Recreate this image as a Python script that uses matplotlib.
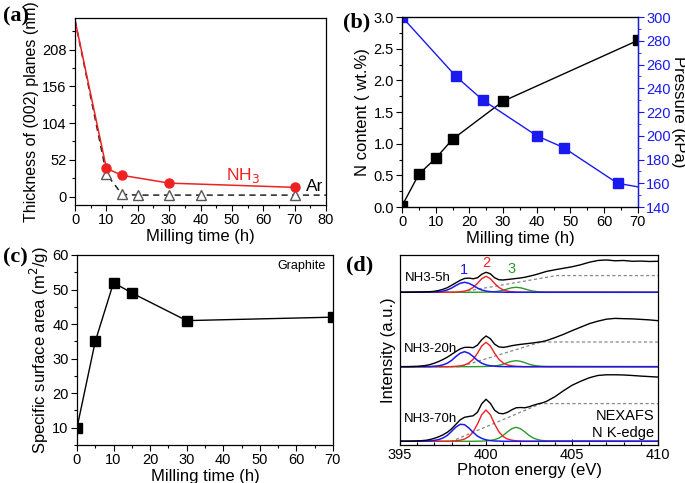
import numpy as np
import matplotlib.pyplot as plt
from matplotlib.ticker import MultipleLocator

plt.rcParams['font.family'] = ['Liberation Sans', 'DejaVu Sans']

# ---- (a) thickness of (002) planes
a_t_nh3 = [0, 10, 15, 30, 70]
a_nh3 = [250, 40, 30, 19, 13]
a_t_ar = [0, 10, 15, 20, 30, 40, 70, 80]
a_ar = [250, 32, 3, 2, 2, 2, 2, 2]

# ---- (b) N content and pressure
b_t_n = [0, 5, 10, 15, 30, 70]
b_n = [0.02, 0.52, 0.77, 1.07, 1.67, 2.63]
b_t_p = [0, 16, 24, 40, 48, 64, 70]
b_p = [300, 250, 230, 200, 190, 160, 157]

# ---- (c) specific surface area
c_t = [0, 5, 10, 15, 30, 70]
c_ssa = [10, 35, 52, 49, 41, 42]

# ---- (d) NEXAFS N K-edge
e_black = [395, 395.5, 396, 396.5, 396.75, 397, 397.25, 397.5, 397.75, 398, 398.25,
           398.5, 398.75, 399, 399.25, 399.5, 399.75, 400, 400.25, 400.5, 400.75, 401,
           401.25, 401.5, 401.75, 402, 402.25, 402.5, 402.75, 403, 403.25, 403.5, 404,
           404.5, 405, 405.5, 406, 406.5, 407, 407.5, 408, 408.5, 409, 409.5, 410]
spec_5h = [0, 0, 0.2, 0.4, 0.6, 1.0, 1.8, 3.0, 4.6, 7.0, 9.5, 12.0, 13.8, 14.2, 13.5,
           14.5, 18.0, 20.0, 18.5, 14.5, 12.5, 12.3, 12.8, 13.3, 13.8, 14.3, 15.0, 16.0,
           17.0, 18.2, 19.5, 20.8, 22.5, 24.0, 25.5, 27.5, 30.0, 31.8, 32.3, 31.5, 31.8,
           31.0, 31.2, 30.8, 31.0]
spec_20h = [0, 0, 0.3, 1.2, 2.2, 3.5, 5.2, 7.2, 9.5, 12.3, 15.2, 17.8, 19.3, 19.4, 19.0,
            21.5, 27.0, 30.7, 28.0, 22.5, 19.8, 19.3, 20.0, 21.0, 21.7, 22.3, 22.8, 23.3,
            23.8, 24.4, 25.0, 26.0, 29.0, 32.3, 36.0, 39.5, 43.0, 45.5, 47.5, 48.3, 48.0,
            47.8, 47.3, 46.8, 46.0]
spec_70h = [0, 0, 0.3, 1.0, 1.8, 3.0, 4.5, 6.5, 9.0, 12.5, 17.0, 21.5, 24.0, 24.8, 25.5,
            29.0, 37.5, 42.0, 38.0, 31.0, 28.0, 27.5, 29.0, 31.5, 33.5, 33.8, 33.5, 34.5,
            36.0, 37.3, 38.3, 39.8, 44.5, 50.5, 56.0, 60.0, 63.5, 65.8, 66.5, 66.5, 66.3,
            65.8, 65.2, 64.7, 64.2]

e_peak = [395, 396.5, 396.75, 397, 397.25, 397.5, 397.75, 398, 398.25, 398.5, 398.75,
          399, 399.25, 399.5, 399.75, 400, 400.25, 400.5, 400.75, 401, 401.25, 401.5,
          401.75, 402, 402.25, 402.5, 402.75, 403, 403.25, 403.5, 410]
p1_5h = [0, 0.1, 0.2, 0.3, 0.6, 1.2, 2.3, 4.2, 6.8, 9.0, 10.0, 9.0, 6.8, 4.2, 2.3, 1.2,
         0.6, 0.3, 0.2, 0.1, 0, 0, 0, 0, 0, 0, 0, 0, 0, 0, 0]
p2_5h = [0, 0, 0, 0, 0, 0, 0, 0.1, 0.2, 0.6, 1.1, 2.4, 4.8, 8.8, 13.6, 16.0, 13.6, 8.8,
         4.8, 2.4, 1.1, 0.6, 0.2, 0.1, 0, 0, 0, 0, 0, 0, 0]
p3_5h = [0, 0, 0, 0, 0, 0, 0, 0, 0, 0, 0, 0, 0, 0.04, 0.08, 0.15, 0.3, 0.6, 1.15, 2.1,
         3.4, 4.5, 5.0, 4.5, 3.4, 2.1, 1.15, 0.6, 0.3, 0.15, 0]
p1_20h = [0, 0.1, 0.2, 0.45, 0.9, 1.8, 3.5, 6.3, 10.2, 13.5, 15.0, 13.5, 10.2, 6.3, 3.5,
          1.8, 0.9, 0.45, 0.2, 0.1, 0, 0, 0, 0, 0, 0, 0, 0, 0, 0, 0]
p2_20h = [0, 0, 0, 0, 0, 0, 0, 0.15, 0.37, 0.85, 1.7, 3.7, 7.3, 13.4, 20.7, 24.4, 20.7,
          13.4, 7.3, 3.7, 1.7, 0.85, 0.37, 0.15, 0, 0, 0, 0, 0, 0, 0]
p3_20h = [0, 0, 0, 0, 0, 0, 0, 0, 0, 0, 0, 0, 0, 0.05, 0.1, 0.18, 0.36, 0.72, 1.4, 2.5,
          4.1, 5.4, 6.0, 5.4, 4.1, 2.5, 1.4, 0.72, 0.36, 0.18, 0]
p1_70h = [0, 0.2, 0.4, 0.9, 1.7, 3.3, 5.9, 10.0, 14.2, 17.0, 16.6, 13.3, 9.0, 5.2, 2.9,
          1.4, 0.7, 0.3, 0.2, 0, 0, 0, 0, 0, 0, 0, 0, 0, 0, 0, 0]
p2_70h = [0, 0, 0, 0, 0, 0, 0, 0.2, 0.5, 1.1, 2.2, 4.7, 9.4, 17.2, 26.6, 31.3, 26.6,
          17.2, 9.4, 4.7, 2.2, 1.1, 0.5, 0.2, 0, 0, 0, 0, 0, 0, 0]
p3_70h = [0, 0, 0, 0, 0, 0, 0, 0, 0, 0, 0, 0, 0, 0.1, 0.2, 0.4, 0.8, 1.7, 3.2, 5.9, 9.5,
          12.6, 14.0, 12.6, 9.5, 5.9, 3.2, 1.7, 0.8, 0.4, 0]

step_e_5h = [395, 398.5, 404.1, 410]
step_5h = [0, 0, 16.7, 16.7]
step_e_20h = [395, 398.5, 403.2, 410]
step_20h = [0, 0, 24.7, 24.7]
step_e_70h = [395, 398.0, 403.2, 410]
step_70h = [0, 0, 37.7, 37.7]

offsets = [152.7, 78.3, 3.7]

fig = plt.figure(figsize=(6.85, 4.83), dpi=100)
ax_a = fig.add_axes([0.1095, 0.5756, 0.3665, 0.3871])
ax_b = fig.add_axes([0.587, 0.5714, 0.344, 0.3934])
ax_c = fig.add_axes([0.1124, 0.0787, 0.3736, 0.3934])
ax_d = fig.add_axes([0.584, 0.0787, 0.3766, 0.3934])

tick_fs = 10.5
lab_fs = 12
for ax in (ax_a, ax_b, ax_c, ax_d):
    ax.tick_params(labelsize=tick_fs, direction='out', length=4, width=0.8, pad=2)
    ax.tick_params(which='minor', direction='out', length=2, width=0.8)
    for s in ax.spines.values():
        s.set_linewidth(0.9)

# (a)
ax_a.plot(a_t_ar, a_ar, color='#222222', ls=(0, (4, 3)), lw=1.1, marker='^',
          mfc='white', mec='#555555', ms=7, markevery=[1, 2, 3, 4, 5, 6])
ax_a.plot(a_t_nh3, a_nh3, color='#ee2222', lw=1.1, marker='o', ms=6.5,
          markevery=[1, 2, 3, 4])
ax_a.set_xlim(0, 80)
ax_a.set_ylim(-12, 253)
ax_a.set_yticks([0, 52, 104, 156, 208])
ax_a.xaxis.set_major_locator(MultipleLocator(10))
ax_a.xaxis.set_minor_locator(MultipleLocator(5))
ax_a.yaxis.set_minor_locator(MultipleLocator(26))
ax_a.set_xlabel('Milling time (h)', fontsize=lab_fs, labelpad=1)
ax_a.set_ylabel('Thickness of (002) planes (nm)', fontsize=11.5, labelpad=2)
ax_a.text(48, 30, 'NH$_3$', color='#ee2222', fontsize=12.5, ha='left', va='center')
ax_a.text(73.5, 14, 'Ar', color='black', fontsize=12.5, ha='left', va='center')

# (b)
blue = '#1a1aee'
ax_b2 = ax_b.twinx()
ax_b.plot(b_t_n, b_n, color='black', lw=1, marker='s', ms=7, zorder=3)
ax_b2.plot(b_t_p, b_p, color=blue, lw=1, marker='s', ms=7,
           markevery=[0, 1, 2, 3, 4, 5])
ax_b.set_xlim(0, 70)
ax_b.set_ylim(0, 3.0)
ax_b2.set_ylim(140, 300)
ax_b.xaxis.set_major_locator(MultipleLocator(10))
ax_b.xaxis.set_minor_locator(MultipleLocator(5))
ax_b.yaxis.set_major_locator(MultipleLocator(0.5))
ax_b.yaxis.set_major_formatter(plt.FormatStrFormatter('%.1f'))
ax_b.yaxis.set_minor_locator(MultipleLocator(0.25))
ax_b2.yaxis.set_major_locator(MultipleLocator(20))
ax_b2.yaxis.set_minor_locator(MultipleLocator(10))
ax_b2.tick_params(labelsize=tick_fs, direction='out', length=4, colors=blue, pad=2)
ax_b2.tick_params(which='minor', direction='out', length=2, colors=blue)
ax_b2.spines['right'].set_color(blue)
ax_b2.spines['right'].set_linewidth(0.9)
ax_b.set_xlabel('Milling time (h)', fontsize=lab_fs, labelpad=1)
ax_b.set_ylabel('N content ( wt.%)', fontsize=lab_fs, labelpad=2)
ax_b2.set_ylabel('Pressure (kPa)', fontsize=lab_fs, rotation=270, labelpad=11,
                 color='black')

# (c)
ax_c.plot(c_t, c_ssa, color='black', lw=1, marker='s', ms=7.5)
ax_c.set_xlim(0, 70)
ax_c.set_ylim(5, 60)
ax_c.xaxis.set_major_locator(MultipleLocator(10))
ax_c.xaxis.set_minor_locator(MultipleLocator(5))
ax_c.yaxis.set_major_locator(MultipleLocator(10))
ax_c.yaxis.set_minor_locator(MultipleLocator(5))
ax_c.set_xlabel('Milling time (h)', fontsize=lab_fs, labelpad=1)
ax_c.set_ylabel('Specific surface area (m$^2$/g)', fontsize=lab_fs, labelpad=1)
ax_c.text(0.97, 0.94, 'Graphite', transform=ax_c.transAxes, fontsize=9,
          ha='right', va='center')

# (d)
green = '#2a9a2a'
red = '#ee2222'
specs = [spec_5h, spec_20h, spec_70h]
peaks = [(p1_5h, p2_5h, p3_5h), (p1_20h, p2_20h, p3_20h), (p1_70h, p2_70h, p3_70h)]
steps = [(step_e_5h, step_5h), (step_e_20h, step_20h), (step_e_70h, step_70h)]
for off, spec, (p1, p2, p3), (se, sv) in zip(offsets, specs, peaks, steps):
    ax_d.plot(se, np.array(sv) + off, color='#888888', ls=(0, (2.5, 2)), lw=0.9)
    ax_d.plot(e_peak, np.array(p3) + off, color=green, lw=1)
    ax_d.plot(e_peak, np.array(p2) + off, color=red, lw=1)
    ax_d.plot(e_peak, np.array(p1) + off, color=blue, lw=1.1)
    ax_d.plot(e_black, np.array(spec) + off, color='black', lw=1)
ax_d.set_xlim(395, 410)
ax_d.set_ylim(0, 190)
ax_d.set_yticks([])
ax_d.xaxis.set_major_locator(MultipleLocator(5))
ax_d.xaxis.set_minor_locator(MultipleLocator(1))
ax_d.tick_params(axis='x', which='both', direction='in')
ax_d.set_xlabel('Photon energy (eV)', fontsize=lab_fs, labelpad=1)
ax_d.set_ylabel('Intensity (a.u.)', fontsize=lab_fs, labelpad=3)
ax_d.text(395.3, offsets[0] + 14, 'NH3-5h', fontsize=9.5, va='center')
ax_d.text(395.2, offsets[1] + 18, 'NH3-20h', fontsize=9.5, va='center')
ax_d.text(395.2, offsets[2] + 22, 'NH3-70h', fontsize=9.5, va='center')
ax_d.text(398.7, offsets[0] + 22, '1', color=blue, fontsize=10.5, ha='center', va='center')
ax_d.text(400.0, offsets[0] + 29, '2', color=red, fontsize=10.5, ha='center', va='center')
ax_d.text(401.5, offsets[0] + 23, '3', color=green, fontsize=10.5, ha='center', va='center')
ax_d.text(409.8, 29, 'NEXAFS', fontsize=10.5, ha='right', va='center')
ax_d.text(409.8, 12, 'N K-edge', fontsize=10.5, ha='right', va='center')

# panel letters
for lab, x, y in [('(a)', 0.004, 0.965), ('(b)', 0.50, 0.954),
                  ('(c)', 0.004, 0.466), ('(d)', 0.505, 0.451)]:
    fig.text(x, y, lab, fontsize=16, fontweight='bold', family='Liberation Serif',
             ha='left', va='center')

fig.savefig('out.png', dpi=100)
